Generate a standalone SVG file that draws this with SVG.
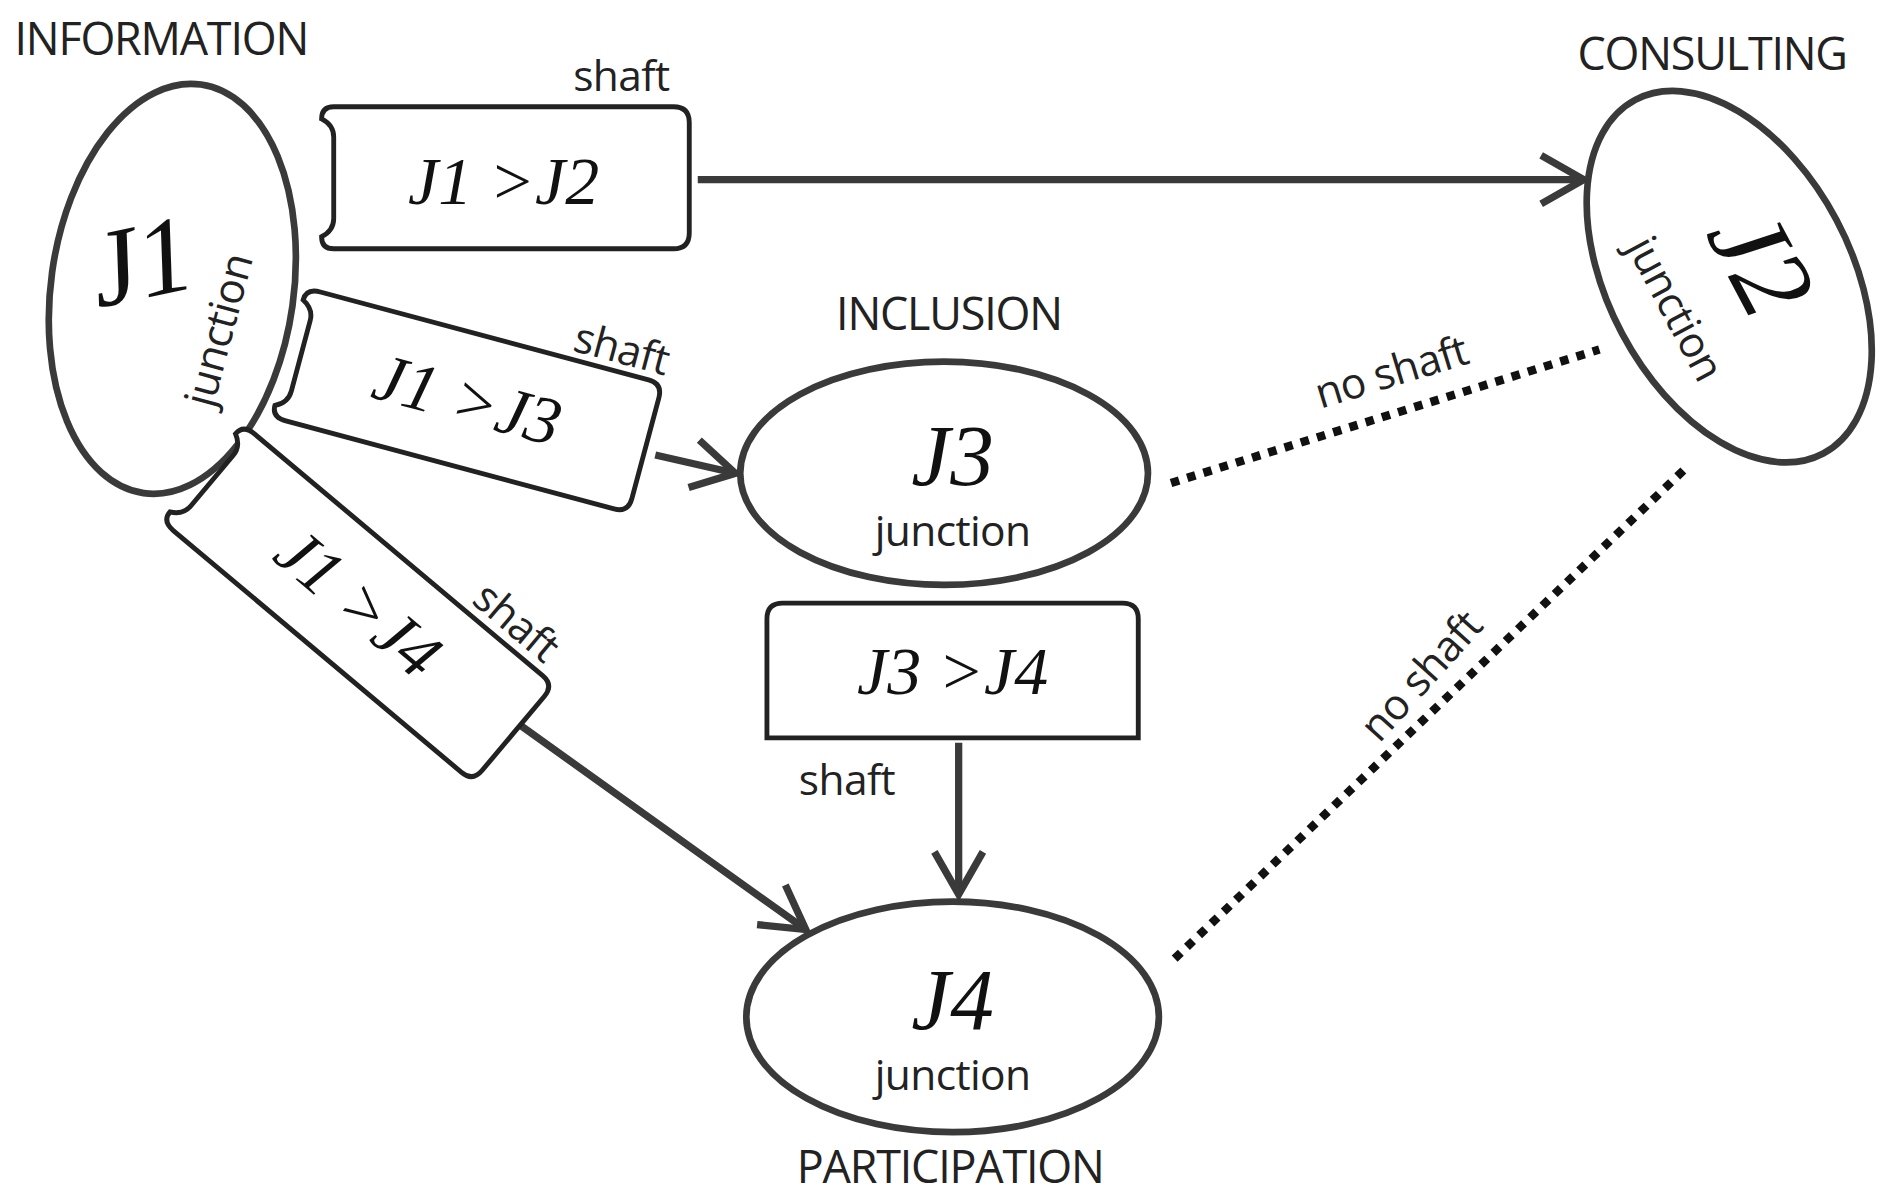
<svg xmlns="http://www.w3.org/2000/svg" width="1893" height="1197" viewBox="0 0 1893 1197">
<style>
.n{fill:none;stroke:#3a3a3a;stroke-width:5.5}
.b{fill:#fff;stroke:#222;stroke-width:4}
.c{fill:none;stroke:#3a3a3a;stroke-width:6}
.d{fill:none;stroke:#111;stroke-width:7;stroke-dasharray:7 7}
.l{font-family:"Open Sans","Liberation Sans",sans-serif;font-size:37px;fill:#222;letter-spacing:-1px}
.s{font-family:"Open Sans","Liberation Sans",sans-serif;font-size:35px;fill:#222;letter-spacing:-0.5px}
.j{font-family:"Liberation Serif",serif;font-style:italic;fill:#111}
</style>
<defs>
<marker id="a" viewBox="0 0 20 20" refX="18" refY="10" markerWidth="50" markerHeight="50" markerUnits="userSpaceOnUse" orient="auto"><path d="M4 2L18 10L4 18" fill="none" stroke="#3a3a3a" stroke-width="2.4"/></marker>
</defs>
<rect width="1893" height="1197" fill="#fff"/>
<g transform="scale(1.2135)">
<g id="connectors">
<path class="c" d="M575 148H1305" marker-end="url(#a)"/>
<path class="c" d="M540 375L606 390" marker-end="url(#a)"/>
<path class="c" d="M425 595L664 766" marker-end="url(#a)"/>
<path class="c" d="M790 612V737" marker-end="url(#a)"/>
<path class="d" d="M965 398L1318 288"/>
<path class="d" d="M968 790L1390 385"/>
<text class="s" transform="translate(1150 318) rotate(-17)" text-anchor="middle">no shaft</text>
<text class="s" transform="translate(1180 565) rotate(-48)" text-anchor="middle">no shaft</text>
</g>
<g id="J1">
<ellipse class="n" cx="142" cy="238" rx="100" ry="170" transform="rotate(8 142 238)"/>
<text class="j" font-size="90" transform="translate(122 245) rotate(-12)" text-anchor="middle">J1</text>
<text class="s" transform="translate(192 275) rotate(-75)" text-anchor="middle">junction</text>
<text class="l" x="12" y="45">INFORMATION</text>
</g>
<g id="J2">
<ellipse class="n" cx="1425" cy="228" rx="100" ry="165" transform="rotate(-28 1425 228)"/>
<text class="j" font-size="90" transform="translate(1425 230) rotate(62)" text-anchor="middle">J2</text>
<text class="s" transform="translate(1370 260) rotate(62)" text-anchor="middle">junction</text>
<text class="l" x="1300" y="58">CONSULTING</text>
</g>
<g id="J3">
<ellipse class="n" cx="778" cy="390" rx="168" ry="92"/>
<text class="j" font-size="72" x="785" y="400" text-anchor="middle">J3</text>
<text class="s" x="785" y="450" text-anchor="middle">junction</text>
<text class="l" x="782" y="272" text-anchor="middle">INCLUSION</text>
</g>
<g id="J4">
<ellipse class="n" cx="785" cy="838" rx="170" ry="95"/>
<text class="j" font-size="72" x="785" y="848" text-anchor="middle">J4</text>
<text class="s" x="785" y="898" text-anchor="middle">junction</text>
<text class="l" x="783" y="975" text-anchor="middle">PARTICIPATION</text>
</g>
<g id="J1J2">
<path class="b" d="M275 88H555Q568 88 568 101V192Q568 205 555 205H275Q265 205 265 195Q275 190 275 180V113Q275 103 265 98Q265 88 275 88Z"/>
<text class="j" font-size="56" x="415" y="168" text-anchor="middle">J1 &gt;J2</text>
<text class="s" x="512" y="75" text-anchor="middle">shaft</text>
</g>
<g id="J1J3" transform="translate(385 330) rotate(15)">
<path class="b" d="M-140 -55H140Q152 -55 152 -43V43Q152 55 140 55H-140Q-152 55 -152 45Q-142 40 -142 30V-30Q-142 -40 -152 -45Q-152 -55 -140 -55Z"/>
<text class="j" font-size="56" x="0" y="18" text-anchor="middle">J1 &gt;J3</text>
<text class="s" x="112" y="-62" text-anchor="middle">shaft</text>
</g>
<g id="J1J4" transform="translate(295 497) rotate(40)">
<path class="b" d="M-155 -52H155Q167 -52 167 -40V40Q167 52 155 52H-155Q-167 52 -167 42Q-157 37 -157 27V-27Q-157 -37 -167 -42Q-167 -52 -155 -52Z"/>
<text class="j" font-size="56" x="0" y="18" text-anchor="middle">J1 &gt;J4</text>
<text class="s" x="110" y="-60" text-anchor="middle">shaft</text>
</g>
<g id="J3J4">
<path class="b" d="M645 497H925Q938 497 938 510V608H632V510Q632 497 645 497Z"/>
<text class="j" font-size="56" x="785" y="572" text-anchor="middle">J3 &gt;J4</text>
<text class="s" x="698" y="655" text-anchor="middle">shaft</text>
</g>
</g>
</svg>
